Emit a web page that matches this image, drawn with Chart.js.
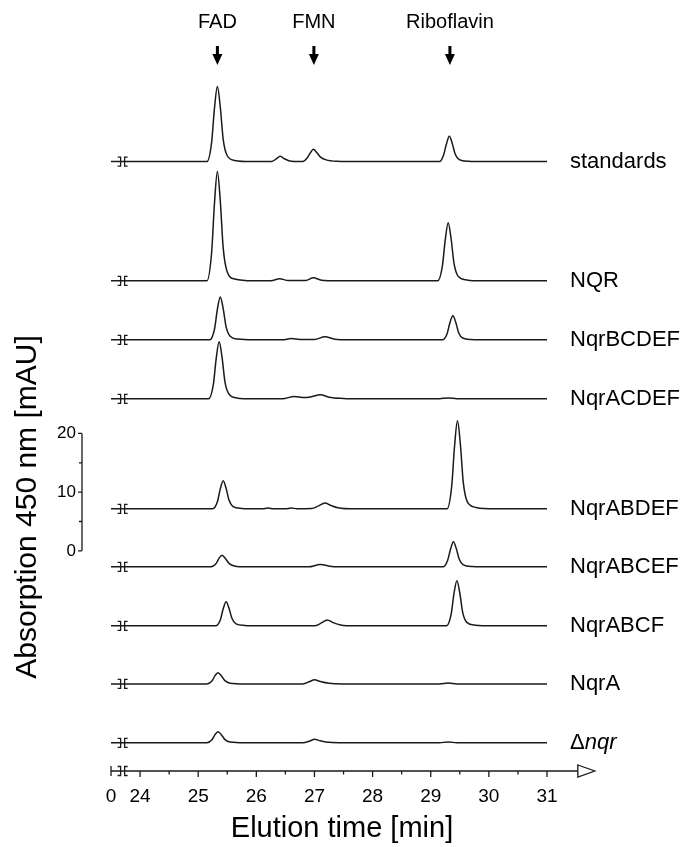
<!DOCTYPE html>
<html>
<head>
<meta charset="utf-8">
<script src="https://cdn.jsdelivr.net/npm/chart.js@4"></script>
<style>
  html, body { margin: 0; background: #fff; }
  canvas { display: block; }
</style>
</head>
<body>
<canvas id="chart" width="682" height="847"></canvas>
<script>
// sample names, top to bottom
const names = ["standards", "NQR", "NqrBCDEF", "NqrACDEF", "NqrABDEF", "NqrABCEF", "NqrABCF", "NqrA", "Δnqr"];
// vertical stacking offset of each trace (mAU)
const offsets = [66.3, 46.0, 35.95, 25.9, 7.15, -2.73, -12.78, -22.66, -32.7];

// traces: [elution time (min), absorption (mAU)]
const standards = [[23.5,0],[25.15,0],[25.23,3.2],[25.28,9.1],[25.33,12.8],[25.38,9.3],[25.43,3.8],[25.5,1.0],[25.63,0.2],[25.9,0],
  [26.26,0],[26.34,0.45],[26.41,0.9],[26.49,0.45],[26.6,0.05],[26.72,0],
  [26.8,0],[26.88,0.7],[26.93,1.5],[26.98,2.1],[27.04,1.55],[27.1,0.8],[27.2,0.3],[27.4,0.05],[27.7,0],
  [29.15,0],[29.22,1.1],[29.27,3.0],[29.32,4.3],[29.37,3.1],[29.42,1.3],[29.49,0.35],[29.65,0.05],[29.9,0],[31,0]];
const nqr = [[23.5,0],[25.15,0],[25.23,4.7],[25.28,13.2],[25.33,18.6],[25.38,13.6],[25.43,5.6],[25.5,1.5],[25.63,0.3],[25.95,0],
  [26.25,0],[26.4,0.35],[26.55,0.05],[26.85,0.05],[26.98,0.5],[27.12,0.1],[27.4,0],
  [29.12,0],[29.2,2.5],[29.25,7.0],[29.3,9.9],[29.35,7.2],[29.4,3.0],[29.47,0.8],[29.62,0.15],[29.9,0],[31,0]];
const nqrBCDEF = [[23.5,0],[25.2,0],[25.28,1.8],[25.33,5.2],[25.38,7.3],[25.43,5.3],[25.48,2.2],[25.55,0.6],[25.68,0.12],[25.95,0],
  [26.45,0],[26.6,0.2],[26.75,0.05],[27.0,0.05],[27.18,0.5],[27.35,0.1],[27.6,0],
  [29.2,0],[29.28,1.0],[29.33,2.9],[29.38,4.1],[29.43,3.0],[29.48,1.2],[29.55,0.3],[29.7,0.05],[29.95,0],[31,0]];
const nqrACDEF = [[23.5,0],[25.18,0],[25.26,2.4],[25.31,6.9],[25.36,9.7],[25.41,7.1],[25.46,2.9],[25.53,0.8],[25.66,0.15],[25.95,0],
  [26.45,0],[26.65,0.4],[26.82,0.2],[26.95,0.35],[27.1,0.7],[27.25,0.25],[27.5,0.05],[27.8,0],
  [29.15,0],[29.3,0.15],[29.45,0],[31,0]];
const nqrABDEF = [[23.5,0],[25.25,0],[25.33,1.2],[25.38,3.4],[25.43,4.8],[25.48,3.5],[25.53,1.5],[25.6,0.4],[25.75,0.08],[26.0,0],
  [26.1,0],[26.2,0.15],[26.3,0],[26.5,0],[26.6,0.15],[26.7,0.02],[26.95,0.05],[27.07,0.5],[27.18,1.0],[27.28,0.6],[27.4,0.2],[27.7,0],
  [29.28,0],[29.36,3.8],[29.41,10.7],[29.46,15.0],[29.51,11.0],[29.56,4.5],[29.63,1.2],[29.78,0.25],[30.1,0],[31,0]];
const nqrABCEF = [[23.5,0],[25.22,0],[25.31,0.6],[25.36,1.5],[25.41,2.0],[25.47,1.4],[25.53,0.6],[25.62,0.15],[25.85,0],
  [26.9,0],[27.1,0.4],[27.3,0.05],[27.5,0],
  [29.21,0],[29.29,1.1],[29.34,3.0],[29.39,4.3],[29.44,3.1],[29.49,1.3],[29.56,0.35],[29.72,0.06],[30.0,0],[31,0]];
const nqrABCF = [[23.5,0],[25.3,0],[25.38,1.0],[25.43,2.9],[25.48,4.1],[25.53,3.0],[25.58,1.3],[25.65,0.35],[25.8,0.07],[26.05,0],
  [27.0,0],[27.12,0.5],[27.22,1.0],[27.32,0.55],[27.45,0.15],[27.7,0],
  [29.27,0],[29.35,1.9],[29.4,5.5],[29.45,7.7],[29.5,5.6],[29.55,2.3],[29.62,0.6],[29.77,0.12],[30.05,0],[31,0]];
const nqrA = [[23.5,0],[25.15,0],[25.24,0.55],[25.29,1.4],[25.34,1.9],[25.4,1.35],[25.46,0.55],[25.55,0.12],[25.8,0],
  [26.8,0],[26.92,0.4],[27.0,0.7],[27.1,0.4],[27.25,0.1],[27.5,0],
  [29.15,0],[29.3,0.15],[29.45,0],[31,0]];
const deltaNqr = [[23.5,0],[25.15,0],[25.24,0.55],[25.29,1.4],[25.34,1.9],[25.4,1.35],[25.46,0.55],[25.55,0.12],[25.8,0],
  [26.8,0],[26.92,0.3],[27.0,0.6],[27.1,0.35],[27.25,0.08],[27.5,0],
  [29.15,0],[29.3,0.15],[29.45,0],[31,0]];
const traces = [standards, nqr, nqrBCDEF, nqrACDEF, nqrABDEF, nqrABCEF, nqrABCF, nqrA, deltaNqr];

// peak markers on top
const markerNames = ["FAD", "FMN", "Riboflavin"];
const markerTimes = [25.33, 26.99, 29.33];

// x axis ticks ("0" sits before the axis break)
const xTickValues = [23.5, 24, 25, 26, 27, 28, 29, 30, 31];
const xTickLabels = ["0", "24", "25", "26", "27", "28", "29", "30", "31"];
const xMinorTicks = [24.5, 25.5, 26.5, 27.5, 28.5, 29.5, 30.5];
const xBreak = 23.7;
const xArrowStart = 31.53;

// y scale bar
const yBarTicks = [0, 10, 20];
const yBarMinor = [5, 15];

const FONT = "'Liberation Sans', Arial, sans-serif";
const INK = "#1a1a1a";

function drawBreak(ctx, cx, cy) {
  ctx.beginPath();
  ctx.moveTo(cx - 5, cy - 4.5); ctx.lineTo(cx - 2, cy - 4.5); ctx.lineTo(cx - 2, cy + 4.5); ctx.lineTo(cx - 5, cy + 4.5);
  ctx.moveTo(cx + 5, cy - 4.5); ctx.lineTo(cx + 2, cy - 4.5); ctx.lineTo(cx + 2, cy + 4.5); ctx.lineTo(cx + 5, cy + 4.5);
  ctx.stroke();
}

const overlay = {
  id: "overlay",
  afterDatasetsDraw(chart) {
    const { ctx, scales: { x, y } } = chart;
    ctx.save();
    ctx.strokeStyle = INK;
    ctx.fillStyle = "#000";
    ctx.lineWidth = 1.3;

    // trace breaks and names
    ctx.font = "22px " + FONT;
    ctx.textBaseline = "middle";
    ctx.textAlign = "left";
    names.forEach((name, i) => {
      const by = y.getPixelForValue(offsets[i]);
      drawBreak(ctx, x.getPixelForValue(xBreak), by);
      const lx = x.right + 23;
      if (name.startsWith("Δ")) {
        ctx.fillText("Δ", lx, by);
        const w = ctx.measureText("Δ").width;
        ctx.font = "italic 22px " + FONT;
        ctx.fillText(name.slice(1), lx + w, by);
        ctx.font = "22px " + FONT;
      } else {
        ctx.fillText(name, lx, by);
      }
    });

    // peak markers
    ctx.textAlign = "center";
    ctx.font = "20px " + FONT;
    markerNames.forEach((m, i) => {
      const mx = x.getPixelForValue(markerTimes[i]);
      ctx.fillText(m, mx, 22);
      ctx.fillRect(mx - 1.5, 46, 3, 10);
      ctx.beginPath();
      ctx.moveTo(mx - 5, 54); ctx.lineTo(mx + 5, 54); ctx.lineTo(mx, 65); ctx.closePath();
      ctx.fill();
    });

    // x axis
    const ay = y.bottom;
    const x0 = x.getPixelForValue(x.min);
    const xa = x.getPixelForValue(xArrowStart);
    ctx.beginPath();
    ctx.moveTo(x0, ay); ctx.lineTo(xa, ay);
    ctx.moveTo(x0, ay - 5); ctx.lineTo(x0, ay + 5);
    xTickValues.slice(1).forEach(v => {
      const px = x.getPixelForValue(v);
      ctx.moveTo(px, ay); ctx.lineTo(px, ay + 6);
    });
    xMinorTicks.forEach(v => {
      const px = x.getPixelForValue(v);
      ctx.moveTo(px, ay); ctx.lineTo(px, ay + 3.5);
    });
    ctx.stroke();
    drawBreak(ctx, x.getPixelForValue(xBreak), ay);
    ctx.beginPath();
    ctx.moveTo(xa, ay - 6); ctx.lineTo(xa + 17, ay); ctx.lineTo(xa, ay + 6); ctx.closePath();
    ctx.fillStyle = "#fff";
    ctx.fill();
    ctx.stroke();
    ctx.fillStyle = "#000";

    ctx.font = "19px " + FONT;
    ctx.textAlign = "center";
    xTickValues.forEach((v, i) => {
      ctx.fillText(xTickLabels[i], x.getPixelForValue(v), ay + 26);
    });
    ctx.font = "29px " + FONT;
    ctx.fillText("Elution time [min]", 342, 829);

    // y scale bar
    const bx = 82;
    ctx.beginPath();
    ctx.moveTo(bx, y.getPixelForValue(yBarTicks[0]));
    ctx.lineTo(bx, y.getPixelForValue(yBarTicks[yBarTicks.length - 1]));
    yBarTicks.forEach(v => {
      const py = y.getPixelForValue(v);
      ctx.moveTo(bx, py); ctx.lineTo(bx - 4, py);
    });
    yBarMinor.forEach(v => {
      const py = y.getPixelForValue(v);
      ctx.moveTo(bx, py); ctx.lineTo(bx - 3, py);
    });
    ctx.stroke();
    ctx.font = "17px " + FONT;
    ctx.textAlign = "right";
    yBarTicks.forEach(v => ctx.fillText(String(v), bx - 6, y.getPixelForValue(v)));

    ctx.save();
    ctx.translate(28, 507);
    ctx.rotate(-Math.PI / 2);
    ctx.textAlign = "center";
    ctx.font = "30px " + FONT;
    ctx.fillText("Absorption 450 nm [mAU]", 0, 0);
    ctx.restore();

    ctx.restore();
  }
};

const datasets = traces.map((tr, i) => ({
  label: names[i],
  data: tr.map(p => ({ x: p[0], y: p[1] + offsets[i] })),
  borderColor: INK,
  borderWidth: 1.5,
  pointRadius: 0,
  cubicInterpolationMode: "monotone",
  fill: false
}));

new Chart(document.getElementById("chart").getContext("2d"), {
  type: "line",
  data: { datasets },
  options: {
    responsive: false,
    animation: false,
    events: [],
    layout: { padding: { left: 111, right: 135, top: 80, bottom: 76 } },
    plugins: { legend: { display: false }, tooltip: { enabled: false } },
    scales: {
      x: { type: "linear", min: 23.5, max: 31, display: false },
      y: { min: -37.5, max: 80.2, display: false }
    }
  },
  plugins: [overlay]
});
</script>
</body>
</html>
